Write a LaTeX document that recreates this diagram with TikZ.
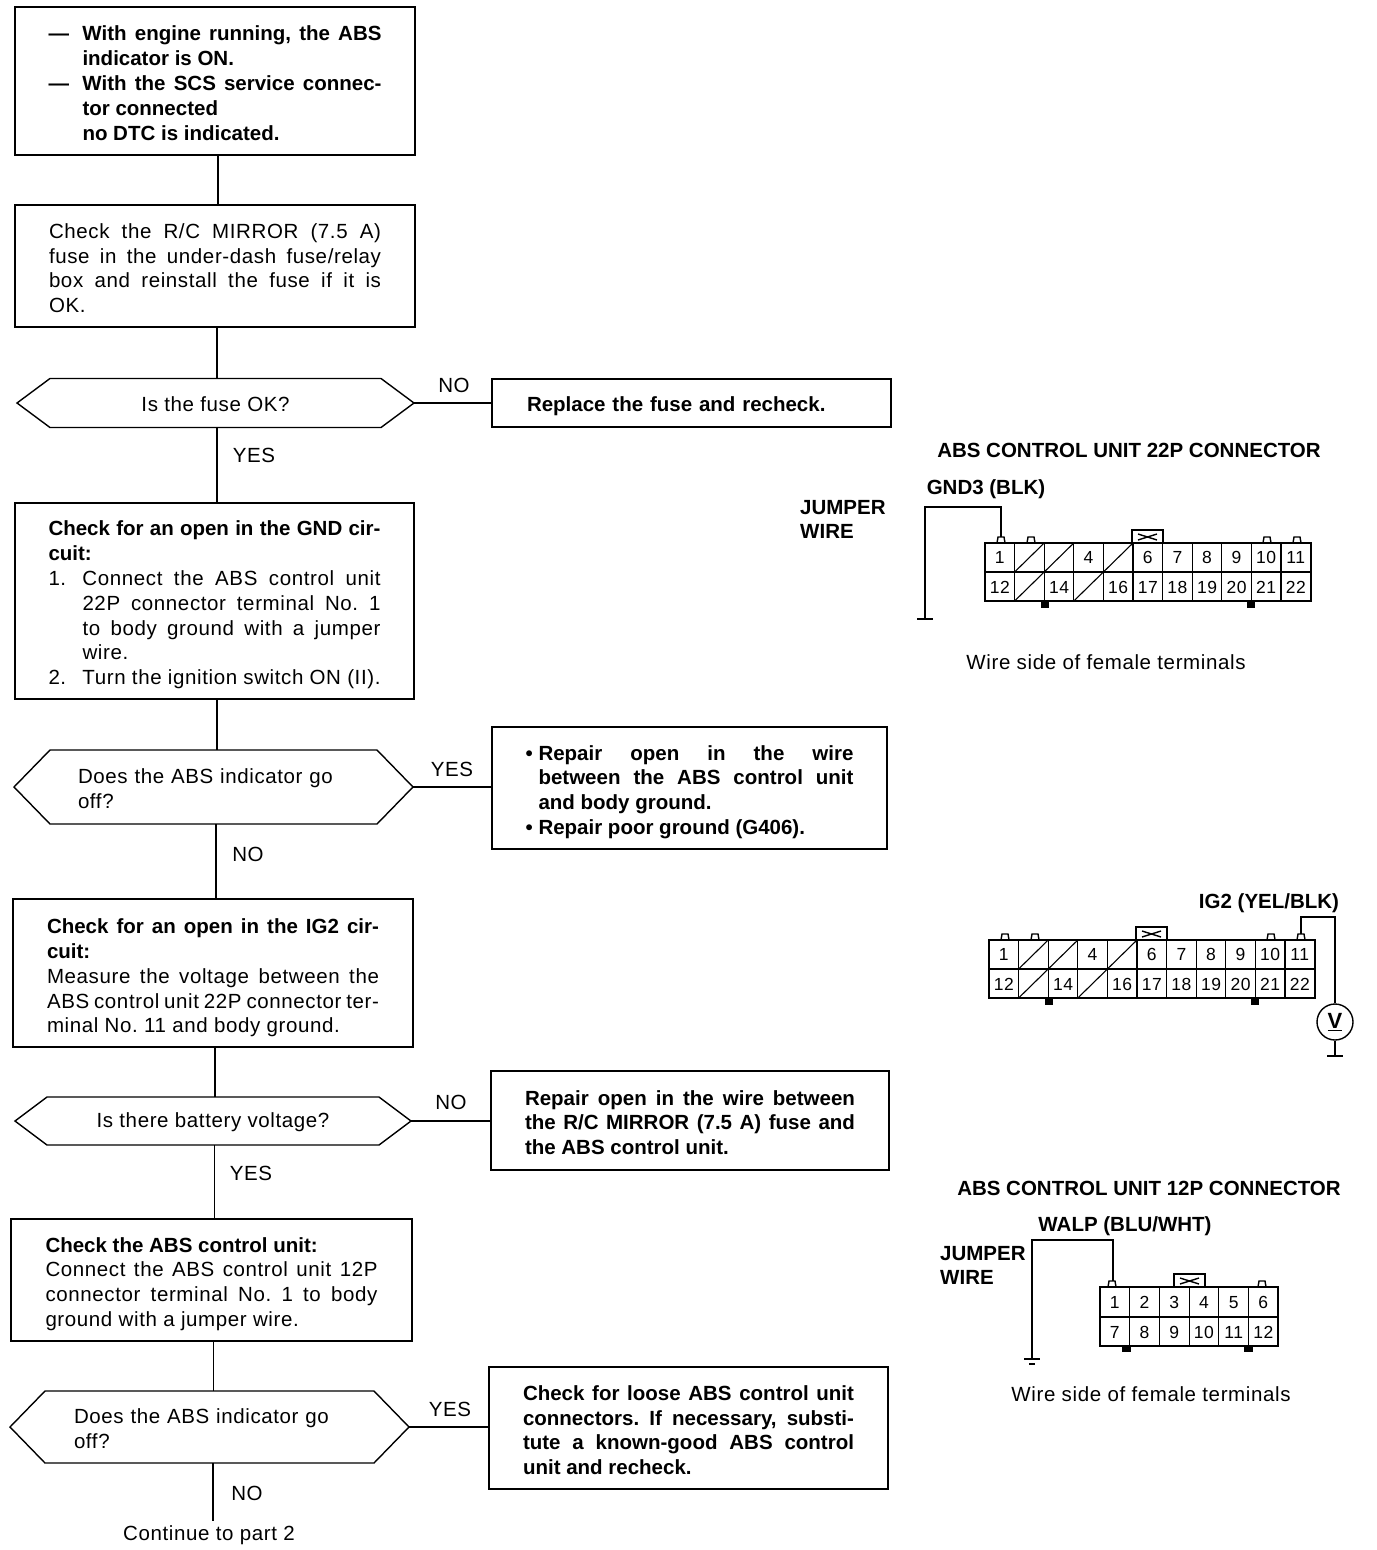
\documentclass[tikz,border=0pt]{standalone}
\usepackage{fontspec}
\setmainfont{Liberation Sans}[LetterSpace=3,BoldFeatures={LetterSpace=0}]
\frenchspacing
\newcommand{\jl}[2][332pt]{\makebox[#1][s]{#2}}
\newcommand{\ind}[1]{\makebox[34pt][l]{#1}}
\newcommand{\bul}{\makebox[13pt][l]{•}}
\newcommand{\dn}[1]{\rule{0pt}{#1}}
\tikzset{
  flowbox/.style={draw,line width=1.4pt,inner sep=0pt,outer sep=0pt,anchor=north west,align=left,
    font=\fontsize{20.5}{24.8}\selectfont},
  boldtext/.style={font=\fontsize{20.5}{24.8}\selectfont\bfseries},
  hexbody/.style={inner sep=0pt,outer sep=0pt,anchor=west,font=\fontsize{20.5}{24.8}\selectfont,
    execute at begin node={\rule{0pt}{18pt}}},
  lbl/.style={inner sep=0pt,font=\fontsize{20.5}{24}\selectfont},
  head/.style={inner sep=0pt,font=\fontsize{20.5}{24}\selectfont\bfseries},
  pinlbl/.style={inner sep=0pt,font=\fontsize{17.5}{20}\selectfont},
  wire/.style={line width=1.4pt},
  conn22/.pic={
    % tabs and key above, tabs below
    \foreach \a in {12,42,278,308}
      \draw[wire] (\a,0) -- ++(1,-6) -- ++(6,0) -- ++(1,6);
    \foreach \a in {57,263}
      \draw[wire,fill=black] (\a,29) rectangle ++(6,35);
    \draw[wire] (147,0) -- (147,-13) -- (178,-13) -- (178,0);
    \draw[wire] (153,-9) -- (172,-3) (153,-3) -- (172,-9);
    % the grid
    \draw[line width=1.8pt,fill=white] (0,0) rectangle (326,58);
    \draw[wire] (0,29) -- (326,29);
    \foreach \c in {1,...,10}
      \draw[line width=1.1pt] ({\c*29.6},0) -- ({\c*29.6},58);
    \foreach \c in {1,2,4}
      \draw[line width=1.1pt] ({\c*29.6},29) -- ++(29.6,-29);
    \foreach \c in {1,3}
      \draw[line width=1.1pt] ({\c*29.6},58) -- ++(29.6,-29);
    \foreach \c/\n in {1/1,4/4,6/6,7/7,8/8,9/9,10/10,11/11}
      \node[pinlbl] (-p\n) at ({(\c-0.5)*29.6},14.5) {\n};
    \foreach \c/\n in {1/12,3/14,5/16,6/17,7/18,8/19,9/20,10/21,11/22}
      \node[pinlbl] (-p\n) at ({(\c-0.5)*29.6},44) {\n};
    \coordinate (-pin1) at (16,-6);
    \coordinate (-pin11) at (312,-6);
  },
  conn12/.pic={
    \foreach \a in {8,158}
      \draw[wire] (\a,0) -- ++(1,-6) -- ++(6,0) -- ++(1,6);
    \foreach \a in {23,145}
      \draw[wire,fill=black] (\a,59) rectangle ++(7,5);
    \draw[wire] (74,0) -- (74,-13) -- (105,-13) -- (105,0);
    \draw[wire] (80,-9) -- (99,-3) (80,-3) -- (99,-9);
    \draw[line width=1.8pt,fill=white] (0,0) rectangle (178,59);
    \draw[wire] (0,30) -- (178,30);
    \foreach \c in {1,...,5}
      \draw[line width=1.1pt] ({\c*29.7},0) -- ({\c*29.7},59);
    \foreach \n in {1,...,6}
      \node[pinlbl] (-p\n) at ({(\n-0.5)*29.7},15.5) {\n};
    \foreach \c/\n in {1/7,2/8,3/9,4/10,5/11,6/12}
      \node[pinlbl] (-p\n) at ({(\c-0.5)*29.7},45) {\n};
    \coordinate (-pin1) at (13,-6);
  }
}

\begin{document}
\begin{tikzpicture}[x=1pt,y=-1pt]
  \useasboundingbox (0,0) rectangle (1376,1550);

  % the left column
  \node[flowbox,boldtext,minimum width=400pt,minimum height=148pt] (start) at (15,7) {%
    \dn{19pt}\ind{---}\jl[299pt]{With engine running, the ABS}\\
    \ind{}indicator is ON.\\
    \ind{---}\jl[299pt]{With the SCS service connec-}\\
    \ind{}tor connected\\
    \ind{}no DTC is indicated.};
  \node[flowbox,minimum width=400pt,minimum height=122pt] (chkfuse) at (15,205) {%
    \dn{19pt}\jl{Check the R/C MIRROR (7.5 A)}\\
    \jl{fuse in the under-dash fuse/relay}\\
    \jl{box and reinstall the fuse if it is}\\
    OK.};
  \node[hexbody,minimum width=397pt,minimum height=49pt,align=center] (fuseok) at (17,403) {Is the fuse OK?};
  \node[flowbox,minimum width=399pt,minimum height=196pt] (chkgnd) at (15,503) {%
    \dn{23pt}\textbf{\jl{Check for an open in the GND cir-}}\\
    \textbf{cuit:}\\
    \ind{1.}\jl[298pt]{Connect the ABS control unit}\\
    \ind{}\jl[298pt]{22P connector terminal No. 1}\\
    \ind{}\jl[298pt]{to body ground with a jumper}\\
    \ind{}wire.\\
    \ind{2.}\jl[298pt]{Turn the ignition switch ON (II).}};
  \node[hexbody,minimum width=399pt,minimum height=74pt,text width=271pt,align=left] (absoff) at (14,787) {Does the ABS indicator go\\off?};
  \node[flowbox,minimum width=400pt,minimum height=148pt] (chkig) at (13,899) {%
    \dn{25pt}\textbf{\jl{Check for an open in the IG2 cir-}}\\
    \textbf{cuit:}\\
    \jl{Measure the voltage between the}\\
    \jl{ABS control unit 22P connector ter-}\\
    minal No. 11 and body ground.};
  \node[hexbody,minimum width=396pt,minimum height=48pt,align=center] (batt) at (15,1121) {Is there battery voltage?};
  \node[flowbox,minimum width=401pt,minimum height=122pt] (chkabs) at (11,1219) {%
    \dn{23pt}\textbf{Check the ABS control unit:}\\
    \jl{Connect the ABS control unit 12P}\\
    \jl{connector terminal No. 1 to body}\\
    ground with a jumper wire.};
  \node[hexbody,minimum width=399pt,minimum height=72pt,text width=271pt,align=left] (absoffb) at (10,1427) {Does the ABS indicator go\\off?};
  \node[lbl] (part2) at (209,1535) {Continue to part 2};
  \coordinate (endno) at (213,1521);

  % the right column
  \node[flowbox,boldtext,minimum width=399pt,minimum height=48pt,text width=329pt] (replfuse) at (492,379) {\dn{21pt}Replace the fuse and recheck.};
  \node[flowbox,boldtext,minimum width=395pt,minimum height=122pt] (repgnd) at (492,727) {%
    \dn{23pt}\bul\jl[315pt]{Repair open in the wire}\\
    \hspace*{13pt}\jl[315pt]{between the ABS control unit}\\
    \hspace*{13pt}and body ground.\\
    \bul Repair poor ground (G406).};
  \node[flowbox,boldtext,minimum width=398pt,minimum height=99pt] (repig) at (491,1071) {%
    \dn{19pt}\jl[330pt]{Repair open in the wire between}\\
    \jl[330pt]{the R/C MIRROR (7.5 A) fuse and}\\
    the ABS control unit.};
  \node[flowbox,boldtext,minimum width=399pt,minimum height=122pt] (chkloose) at (489,1367) {%
    \dn{19pt}\jl[331pt]{Check for loose ABS control unit}\\
    \jl[331pt]{connectors. If necessary, substi-}\\
    \jl[331pt]{tute a known-good ABS control}\\
    unit and recheck.};

  % the hexagons round their nodes
  \foreach \n/\i in {fuseok/33,absoff/36,batt/32,absoffb/35}
    \draw[wire] (\n.west) -- ([xshift=\i pt]\n.north west) -- ([xshift=-\i pt]\n.north east)
      -- (\n.east) -- ([xshift=-\i pt]\n.south east) -- ([xshift=\i pt]\n.south west) -- cycle;

  % the connectors
  \foreach \a/\b/\s in {start/chkfuse/3,chkfuse/fuseok/2,fuseok/chkgnd/1.5,chkgnd/absoff/2.5,
      absoff/chkig/2.5,chkig/batt/2,batt/chkabs/1.5,chkabs/absoffb/2}
    \draw[wire] ([xshift=\s pt]\a.south) -- ([xshift=\s pt]\a.south |- \b.north);
  \draw[wire] ([xshift=3.5pt]absoffb.south) -- (endno);
  \draw[wire] (fuseok.east) -- (replfuse.west |- fuseok.east);
  \draw[wire] (absoff.east) -- (repgnd.west |- absoff.east);
  \draw[wire] (batt.east) -- (repig.west |- batt.east);
  \draw[wire] (absoffb.east) -- (chkloose.west |- absoffb.east);

  % the labels on them
  \node[lbl] (lno1) at (454,385) {NO};
  \node[lbl] (lyes1) at (254,455) {YES};
  \node[lbl] (lyes2) at (452,769) {YES};
  \node[lbl] (lno2) at (248,854) {NO};
  \node[lbl] (lno3) at (451,1102) {NO};
  \node[lbl] (lyes3) at (251,1173) {YES};
  \node[lbl] (lyes4) at (450,1409) {YES};
  \node[lbl] (lno4) at (247,1493) {NO};

  % the 22P connector with the jumper wire
  \node[head] (t22) at (1129,450) {ABS CONTROL UNIT 22P CONNECTOR};
  \node[head] (tgnd) at (986,489) {GND3 (BLK)};
  \node[head,align=left,anchor=north west] (tjump) at (800,500) {JUMPER\\WIRE};
  \pic (cona) at (985,543) {conn22};
  \coordinate (gnda) at (925,619);
  \draw[line width=2pt] (cona-pin1) |- (gnda |- 0,507) -- (gnda);
  \draw[wire] (gnda) +(-8,0) -- +(8,0);
  \node[lbl] (twirea) at (1106,662) {Wire side of female terminals};

  % the 22P connector with the meter
  \node[head] (tig) at (1269,903) {IG2 (YEL/BLK)};
  \pic (conb) at (989,940) {conn22};
  \node[draw,circle,wire,minimum size=36pt,inner sep=0pt,font=\fontsize{22}{22}\selectfont\bfseries] (meter) at (1335,1022) {\underline{V}};
  \coordinate (gndb) at (1335,1056);
  \draw[line width=2pt] (conb-pin11) |- (meter.north |- 0,917) -- (meter.north);
  \draw[wire] (meter.south) -- (gndb);
  \draw[wire] (gndb) +(-8,0) -- +(8,0);

  % the 12P connector
  \node[head] (t12) at (1149,1188) {ABS CONTROL UNIT 12P CONNECTOR};
  \node[head] (twalp) at (1125,1226) {WALP (BLU/WHT)};
  \node[head,align=left,anchor=north west] (tjumpb) at (940,1246) {JUMPER\\WIRE};
  \pic (conc) at (1100,1287) {conn12};
  \coordinate (gndc) at (1032,1359);
  \draw[line width=2pt] (conc-pin1) |- (gndc |- 0,1240) -- (gndc);
  \draw[wire] (gndc) +(-8,0) -- +(8,0);
  \draw[wire] (gndc) ++(-3,5) -- ++(6,0);
  \node[lbl] (twirec) at (1151,1394) {Wire side of female terminals};
\end{tikzpicture}
\end{document}
